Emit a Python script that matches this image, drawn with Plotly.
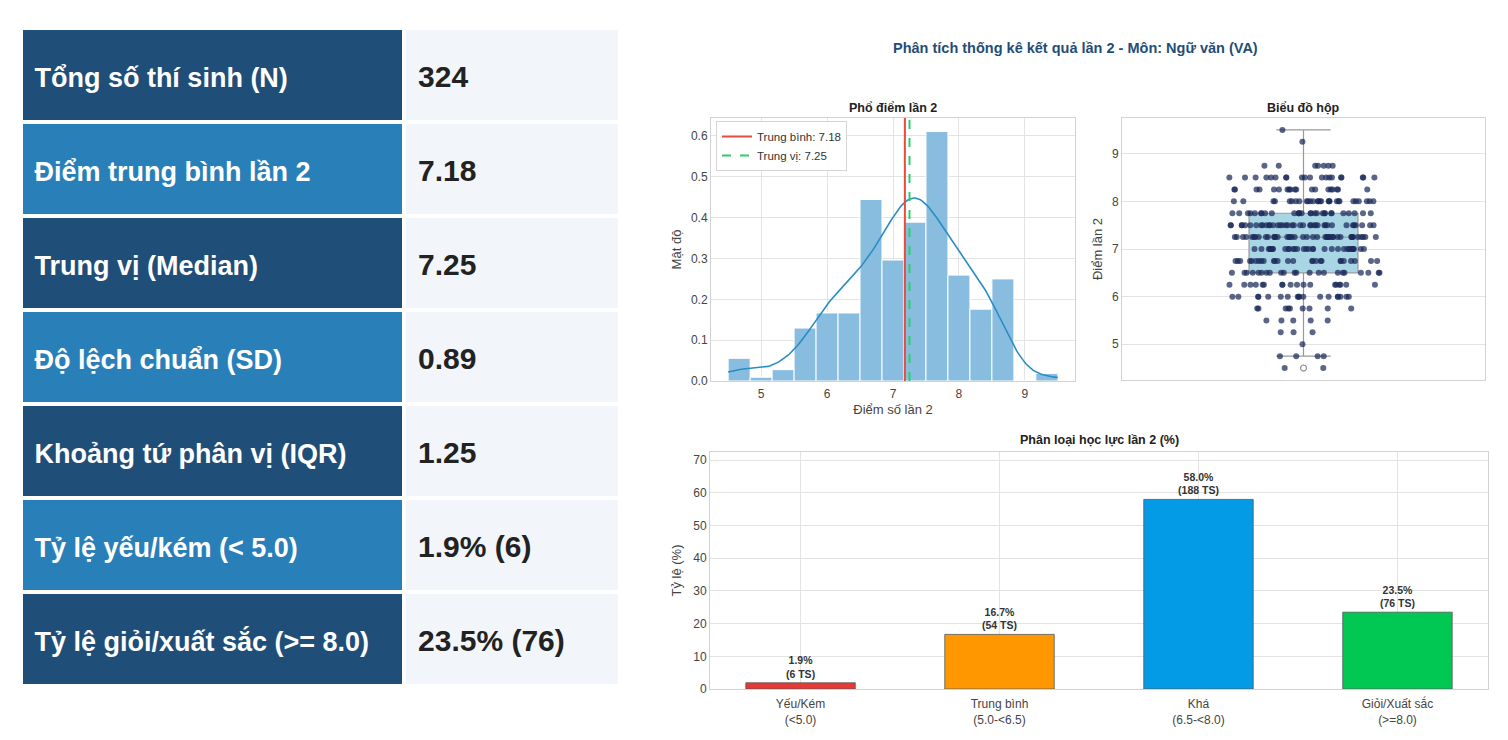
import numpy as np
import plotly.graph_objects as go

# ---- dữ liệu ----
table_labels = [
    "Tổng số thí sinh (N)",
    "Điểm trung bình lần 2",
    "Trung vị (Median)",
    "Độ lệch chuẩn (SD)",
    "Khoảng tứ phân vị (IQR)",
    "Tỷ lệ yếu/kém (< 5.0)",
    "Tỷ lệ giỏi/xuất sắc (>= 8.0)",
]
table_values = ["324", "7.18", "7.25", "0.89", "1.25", "1.9% (6)", "23.5% (76)"]

# phân bố điểm (bước 0.25) và số thí sinh ở mỗi mức điểm
score_levels = [4.5, 4.75, 5.0, 5.25, 5.5, 5.75, 6.0, 6.25, 6.5, 6.75, 7.0,
                7.25, 7.5, 7.75, 8.0, 8.25, 8.5, 8.75, 9.0, 9.25, 9.5]
score_counts = [2, 4, 1, 3, 5, 9, 18, 18, 22, 26, 32,
                42, 38, 28, 28, 19, 20, 7, 0, 1, 1]

mean_score = 7.18
median_score = 7.25

cat_labels = ["Yếu/Kém<br>(&lt;5.0)", "Trung bình<br>(5.0-&lt;6.5)",
              "Khá<br>(6.5-&lt;8.0)", "Giỏi/Xuất sắc<br>(&gt;=8.0)"]
cat_pct = [1.9, 16.7, 58.0, 23.5]
cat_count = [6, 54, 188, 76]
cat_colors = ["#E53935", "#FF9800", "#039BE5", "#00C853"]

FONT = "Liberation Sans, Arial, Helvetica, sans-serif"
GRID = "#e3e3e3"
SPINE = "#d2d2d2"
TICK = "#444444"

# trang có lề body 8px -> vẽ hình nhỏ hơn cửa sổ để khớp toạ độ ảnh gốc
W, H, PAD = 1492, 722, 8


def px(x):
    return (x - PAD) / W


def py(y):
    return 1 - (y - PAD) / H


scores = np.repeat(np.array(score_levels), score_counts)
n = len(scores)

# histogram 15 bins 4.5 -> 9.5 (density)
edges = np.linspace(scores.min(), scores.max(), 16)
hist_counts, _ = np.histogram(scores, bins=edges)
bw = edges[1] - edges[0]
density = hist_counts / (n * bw)
centers = (edges[:-1] + edges[1:]) / 2

# KDE (gaussian, Scott)
h = scores.std(ddof=1) * n ** (-1 / 5)
grid = np.linspace(scores.min(), scores.max(), 200)
kde = np.exp(-0.5 * ((grid[:, None] - scores[None, :]) / h) ** 2).sum(axis=1) / (n * h * np.sqrt(2 * np.pi))

fig = go.Figure()

# ---- bảng chỉ số ----
dark, light, val_bg = "#1F4E79", "#2980B9", "#F2F5F9"
row_fill = [dark if i % 2 == 0 else light for i in range(len(table_labels))]


def cell_txt(s, size):
    # dòng trống nhỏ phía trên để chữ nằm giữa ô
    return f"&nbsp;<br><span style='font-size:{size}px'>\u2009{s}</span>"


LINE_F = 23
fig.add_trace(
    go.Table(
        domain=dict(x=[px(21), px(620)], y=[py(690), py(28)]),
        columnwidth=[383, 216],
        header=dict(
            values=[cell_txt(table_labels[0], 27), cell_txt(table_values[0], 30)],
            fill_color=[row_fill[0], val_bg],
            line=dict(color="white", width=4),
            align="left",
            height=94,
            font=dict(family=FONT, size=LINE_F, color=["white", "#222222"], weight="bold"),
        ),
        cells=dict(
            values=[[cell_txt(s, 27) for s in table_labels[1:]],
                    [cell_txt(s, 30) for s in table_values[1:]]],
            fill_color=[row_fill[1:], [val_bg] * (len(table_values) - 1)],
            line=dict(color="white", width=4),
            align="left",
            height=94,
            font=dict(family=FONT, size=LINE_F, color=["white", "#222222"], weight="bold"),
        ),
    )
)

# ---- phổ điểm ----
fig.add_trace(
    go.Bar(
        x=centers, y=density, width=bw,
        marker=dict(color="#88BDE0", line=dict(color="white", width=1)),
        showlegend=False, xaxis="x", yaxis="y",
    )
)
fig.add_trace(
    go.Scatter(
        x=grid, y=kde, mode="lines",
        line=dict(color="#2A8CC4", width=1.6),
        showlegend=False, xaxis="x", yaxis="y",
    )
)
fig.add_shape(type="line", xref="x", yref="y domain", x0=mean_score, x1=mean_score, y0=0, y1=1,
              line=dict(color="#E74C3C", width=2), showlegend=True,
              name=f"Trung bình: {mean_score:.2f}")
fig.add_shape(type="line", xref="x", yref="y domain", x0=median_score, x1=median_score, y0=0, y1=1,
              line=dict(color="#2ECC71", width=2, dash="dash"), showlegend=True,
              name=f"Trung vị: {median_score:.2f}")

# ---- biểu đồ hộp ----
fig.add_trace(
    go.Box(
        y=scores, x=np.zeros(n), width=0.30, whiskerwidth=0.5,
        fillcolor="#A9D6E5", line=dict(color="#999999", width=1.2),
        boxpoints="outliers",
        marker=dict(symbol="circle-open", color="#999999", size=6),
        showlegend=False, xaxis="x2", yaxis="y2",
    )
)
fig.add_trace(
    go.Box(
        y=scores, x=np.zeros(n), width=0.42,
        fillcolor="rgba(0,0,0,0)", line=dict(width=0),
        boxpoints="all", jitter=1, pointpos=0,
        marker=dict(color="#1B2A5A", size=6, opacity=0.72),
        showlegend=False, xaxis="x2", yaxis="y2",
    )
)

# ---- phân loại học lực ----
fig.add_trace(
    go.Bar(
        x=list(range(len(cat_labels))), y=cat_pct, width=0.55,
        marker=dict(color=cat_colors, line=dict(color="#555555", width=0.8)),
        text=[f"<b>{p:.1f}%<br>({c} TS)</b>" for p, c in zip(cat_pct, cat_count)],
        textposition="outside", cliponaxis=False,
        textfont=dict(family=FONT, size=10.5, color="#333333"),
        showlegend=False, xaxis="x3", yaxis="y3",
    )
)

ax_common = dict(
    showline=True, mirror=True, linecolor=SPINE, linewidth=1,
    gridcolor=GRID, zeroline=False, ticks="", automargin=False,
    tickfont=dict(family=FONT, size=12, color=TICK),
)
AX_TITLE = dict(family=FONT, size=13, color=TICK)


def title_ann(text, x, y, size, color="#222222"):
    return dict(text=f"<b>{text}</b>", x=px(x), y=py(y), xref="paper", yref="paper",
                xanchor="center", yanchor="middle", showarrow=False,
                font=dict(family=FONT, size=size, color=color))


fig.update_layout(
    width=W, height=H,
    margin=dict(l=0, r=0, t=0, b=0),
    paper_bgcolor="white", plot_bgcolor="white",
    font=dict(family=FONT, color="#333333"),
    barmode="overlay", boxmode="overlay",
    xaxis=dict(domain=[px(711), px(1075)], range=[4.24, 9.76], dtick=1, anchor="y",
               ticklabelstandoff=2,
               title=dict(text="Điểm số lần 2", font=AX_TITLE, standoff=4), **ax_common),
    yaxis=dict(domain=[py(381), py(118)], range=[0, 0.644], dtick=0.1, tickformat=".1f", anchor="x",
               title=dict(text="Mật độ", font=AX_TITLE, standoff=6), **ax_common),
    xaxis2=dict(domain=[px(1122), px(1485)], range=[-0.5, 0.5], anchor="y2",
                showticklabels=False, showgrid=False, **{k: v for k, v in ax_common.items() if k != "gridcolor"}),
    yaxis2=dict(domain=[py(380), py(118)], range=[4.25, 9.75], dtick=1, anchor="x2",
                title=dict(text="Điểm lần 2", font=AX_TITLE, standoff=6), **ax_common),
    xaxis3=dict(domain=[px(710), px(1488)], range=[-0.455, 3.455], anchor="y3",
                tickmode="array", tickvals=list(range(len(cat_labels))), ticktext=cat_labels,
                ticklabelstandoff=4, **ax_common),
    yaxis3=dict(domain=[py(689), py(452)], range=[0, 72.5], dtick=10, anchor="x3",
                title=dict(text="Tỷ lệ (%)", font=AX_TITLE, standoff=8), **ax_common),
    legend=dict(x=px(716), y=py(121), xanchor="left", yanchor="top",
                bgcolor="rgba(255,255,255,0.9)", bordercolor="#d5d5d5", borderwidth=1,
                font=dict(family=FONT, size=11.5, color="#333333"), itemwidth=30,
                tracegroupgap=0),
    annotations=[
        title_ann("Phân tích thống kê kết quả lần 2 - Môn: Ngữ văn (VA)", 1075, 48, 14.5, "#1F4E79"),
        title_ann("Phổ điểm lần 2", 893, 108, 12.5),
        title_ann("Biểu đồ hộp", 1303, 108, 12.5),
        title_ann("Phân loại học lực lần 2 (%)", 1099, 440, 12.5),
    ],
)

fig.write_html("out.html")
